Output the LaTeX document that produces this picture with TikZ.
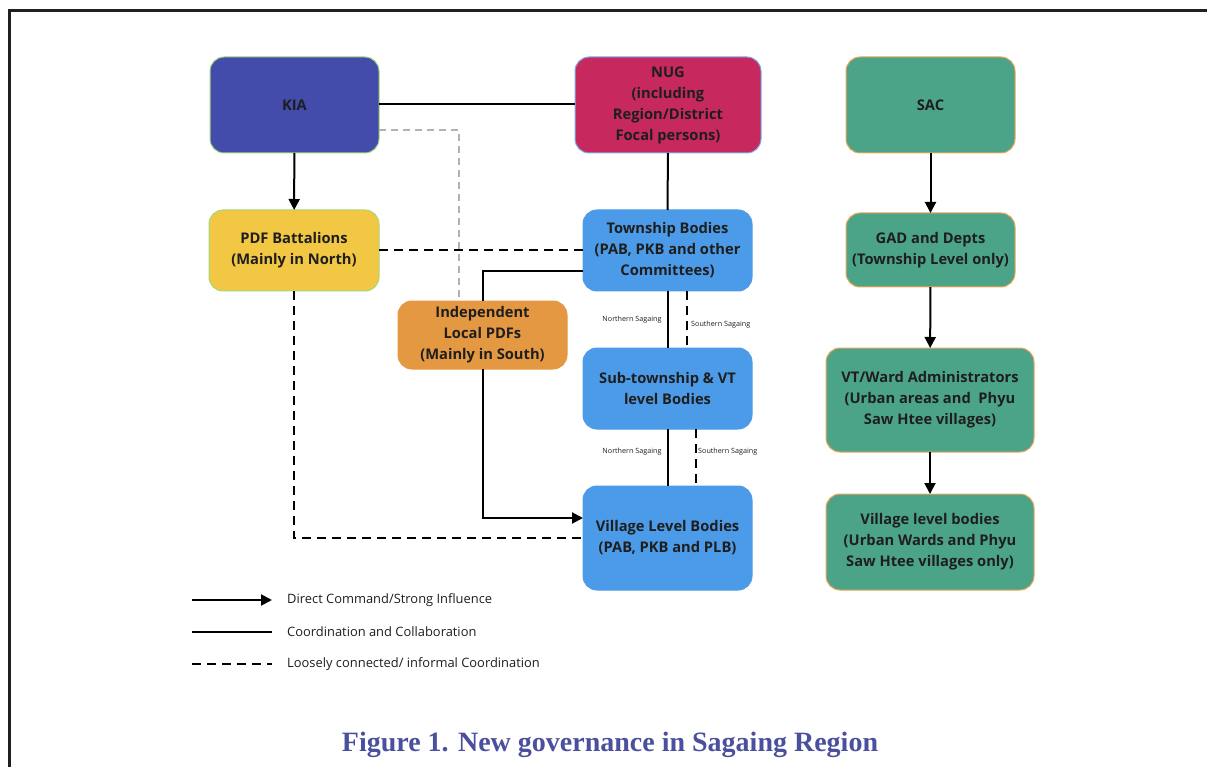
\documentclass[tikz,border=0pt]{standalone}
\usepackage{fontspec}
\usetikzlibrary{arrows.meta,calc}
\newfontfamily\osans{Open Sans}
\newfontfamily\capfont{Liberation Serif}
\definecolor{kiafill}{HTML}{434CAB}
\definecolor{nugfill}{HTML}{C7295E}
\definecolor{sacfill}{HTML}{4CA488}
\definecolor{pdffill}{HTML}{F2C744}
\definecolor{bluefill}{HTML}{4C9BE8}
\definecolor{orgfill}{HTML}{E59842}
\definecolor{greenedge}{HTML}{A6D77A}
\definecolor{blueedge}{HTML}{7AB2EE}
\definecolor{orangeedge}{HTML}{F0A65A}
\definecolor{txt}{HTML}{1E1E1E}
\definecolor{capcol}{HTML}{4B509E}
\definecolor{framecol}{HTML}{231F20}
\tikzset{
  x=1pt, y=-1pt,
  box/.style={rounded corners=14pt, inner sep=0pt, outer sep=0pt, align=center,
    font=\osans\bfseries\fontsize{14.7}{21}\selectfont, text=txt, line width=1pt},
  conn/.style={line width=2pt, black},
  cmd/.style={conn, -{Triangle[length=11pt,width=11pt]}},
  loose/.style={conn, dash pattern=on 8.5pt off 6.5pt},
  faint/.style={line width=1.2pt, black!30, dash pattern=on 7pt off 5pt},
  small/.style={font=\osans\fontsize{7.2}{8}\selectfont, text=txt, inner sep=0pt},
  legend/.style={font=\osans\fontsize{12.9}{15}\selectfont, text=txt, anchor=west, inner sep=0pt},
}
\begin{document}
\begin{tikzpicture}
\useasboundingbox (0,0) rectangle (1207,767);
% frame
\draw[line width=3pt, framecol] (1210,11) -- (9.5,11) -- (9.5,770);

% nodes
\node[box, fill=kiafill, draw=greenedge, minimum width=169pt, minimum height=96pt] (KIA) at (294.5,105) {KIA};
\node[box, fill=nugfill, draw=blueedge, minimum width=186pt, minimum height=96pt] (NUG) at (668,105) {NUG\\(including\\Region/District\\Focal persons)};
\node[box, fill=sacfill, draw=orangeedge, minimum width=169pt, minimum height=96pt] (SAC) at (930.5,105) {SAC};
\node[box, fill=pdffill, draw=greenedge, minimum width=170pt, minimum height=81pt] (PDF) at (294,250.5) {PDF Battalions\\(Mainly in North)};
\node[box, fill=bluefill, draw=bluefill, minimum width=169pt, minimum height=81pt] (Town) at (667.5,250.5) {Township Bodies\\(PAB, PKB and other\\Committees)};
\node[box, fill=orgfill, draw=orgfill, minimum width=169pt, minimum height=68pt] (Indep) at (482.5,335) {Independent\\Local PDFs\\(Mainly in South)};
\node[box, fill=bluefill, draw=bluefill, minimum width=169pt, minimum height=81pt] (Sub) at (667.5,388.5) {Sub-township \& VT\\level Bodies};
\node[box, fill=bluefill, draw=bluefill, minimum width=169pt, minimum height=104pt] (Vill) at (667.5,538) {Village Level Bodies\\(PAB, PKB and PLB)};
\node[box, fill=sacfill, draw=orangeedge, minimum width=169pt, minimum height=74pt] (GAD) at (930.5,250) {GAD and Depts\\(Township Level only)};
\node[box, fill=sacfill, draw=orangeedge, minimum width=208pt, minimum height=104pt] (VT) at (930,400) {VT/Ward Administrators\\(Urban areas and\ \ Phyu\\Saw Htee villages)};
\node[box, fill=sacfill, draw=orangeedge, minimum width=208pt, minimum height=96pt] (VS) at (930,542) {Village level bodies\\(Urban Wards and Phyu\\Saw Htee villages only)};

% connectors
\draw[conn] ([yshift=1pt]KIA.east) -- ([yshift=1pt]NUG.west);
\draw[cmd] (KIA) -- (PDF);
\draw[conn] (NUG) -- (Town);
\draw[faint] ([yshift=-25pt]KIA.east) -| ([xshift=-23.5pt]Indep.north);
\draw[loose] (PDF.east) -- (Town.west);
\draw[conn] ([yshift=-20.5pt]Town.west) -| (Indep.north);
\draw[cmd] (Indep.south) |- ([yshift=20pt]Vill.west);
\draw[loose] (PDF.south) |- (Vill.west);
\draw[conn] (Town) -- (Sub);
\draw[loose] ([xshift=19.5pt]Town.south) -- ([xshift=19.5pt]Sub.north);
\draw[conn] (Sub) -- (Vill);
\draw[loose] ([xshift=28.5pt]Sub.south) -- ([xshift=28.5pt]Vill.north);
\draw[cmd] (SAC) -- (GAD);
\draw[cmd] (GAD) -- (VT);
\draw[cmd] (VT) -- (VS);

% small labels
\node[small] (n1) at (632,320) {Northern Sagaing};
\node[small, anchor=west] (s1) at (691,325) {Southern Sagaing};
\node[small] (n2) at (632,452) {Northern Sagaing};
\node[small, anchor=west] (s2) at (698,452) {Southern Sagaing};

% legend
\coordinate (la) at (192,600); \coordinate (lb) at (272,600);
\coordinate (lc) at (192,632); \coordinate (ld) at (272,632);
\coordinate (le) at (192,664); \coordinate (lf) at (272,664);
\draw[cmd] (la) -- (lb);
\draw[conn] (lc) -- (ld);
\draw[loose] (le) -- (lf);
\node[legend] (t1) at (287,600) {Direct Command/Strong Influence};
\node[legend] (t2) at (287,632) {Coordination and Collaboration};
\node[legend] (t3) at (287,664) {Loosely connected/ informal Coordination};

% caption
\node[font=\capfont\bfseries\fontsize{28}{32}\selectfont, text=capcol, inner sep=0pt] (cap) at (610,745) {Figure 1. New governance in Sagaing Region};
\end{tikzpicture}
\end{document}
